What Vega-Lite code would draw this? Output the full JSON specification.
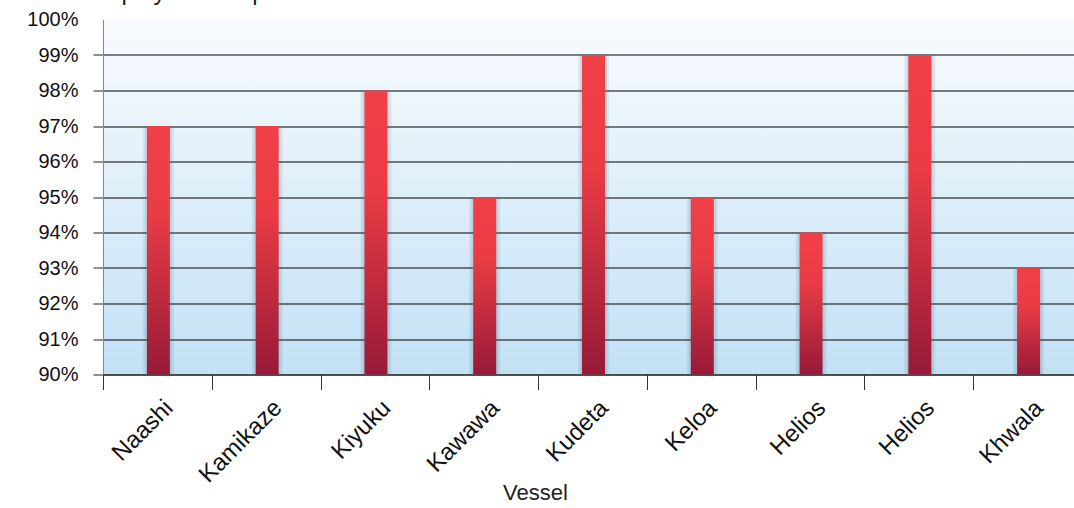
{
  "$schema": "https://vega.github.io/schema/vega-lite/v6.json",
  "autosize": "none",
  "width": 979,
  "height": 355,
  "padding": {"left": 103, "top": 19.5, "right": 0, "bottom": 134},
  "background": "white",
  "config": {
    "font": "Liberation Sans",
    "view": {
      "stroke": null,
      "fill": {
        "gradient": "linear",
        "x1": 0, "y1": 0, "x2": 0, "y2": 1,
        "stops": [
          {"offset": 0, "color": "#f8fbfe"},
          {"offset": 1, "color": "#c3e1f5"}
        ]
      }
    }
  },
  "data": {
    "values": [
      {"id": "Naashi|1", "protected": 97},
      {"id": "Kamikaze|2", "protected": 97},
      {"id": "Kiyuku|3", "protected": 98},
      {"id": "Kawawa|4", "protected": 95},
      {"id": "Kudeta|5", "protected": 99},
      {"id": "Keloa|6", "protected": 95},
      {"id": "Helios|7", "protected": 94},
      {"id": "Helios|8", "protected": 99},
      {"id": "Khwala|9", "protected": 93}
    ]
  },
  "encoding": {
    "x": {
      "field": "id",
      "type": "nominal",
      "sort": null,
      "scale": {"paddingInner": 0, "paddingOuter": 0},
      "axis": {
        "title": "Vessel",
        "titleFontSize": 22,
        "titleFontWeight": "normal",
        "titleColor": "#222222",
        "titleX": 432,
        "titleY": 125,
        "titleAlign": "center",
        "titleBaseline": "alphabetic",
        "labelExpr": "isValid(datum.value) ? split(datum.value, '|')[0] : ''",
        "labelAngle": -45,
        "labelFontSize": 24,
        "labelColor": "#111111",
        "labelPadding": 6,
        "labelOffset": 3,
        "tickBand": "extent",
        "tickSize": 15,
        "tickColor": "#333333",
        "domainColor": "#222222",
        "grid": false
      }
    },
    "y": {
      "field": "protected",
      "type": "quantitative",
      "scale": {"domain": [90, 100], "nice": false, "zero": false},
      "axis": {
        "title": "% of employees are protected",
        "titleAngle": 0,
        "titleAlign": "left",
        "titleBaseline": "alphabetic",
        "titleX": -70,
        "titleY": -20,
        "titleFontSize": 24,
        "titleFontWeight": "normal",
        "titleColor": "#222222",
        "values": [90, 91, 92, 93, 94, 95, 96, 97, 98, 99, 100],
        "labelExpr": "datum.value + '%'",
        "labelFontSize": 20,
        "labelColor": "#111111",
        "labelPadding": 15,
        "tickSize": 10,
        "tickColor": "#222222",
        "tickOpacity": {"condition": {"test": "datum.value == 100", "value": 0}, "value": 1},
        "grid": true,
        "gridColor": "#000000",
        "gridOpacity": {"condition": {"test": "datum.value == 100", "value": 0}, "value": 1},
        "domainColor": "#888888"
      }
    },
    "y2": {"datum": 90}
  },
  "layer": [
    {
      "mark": {"type": "bar", "width": 31, "xOffset": 1, "color": "#3d5f7a", "opacity": 0.1}
    },
    {
      "mark": {"type": "bar", "width": 27, "xOffset": 1, "color": "#3d5f7a", "opacity": 0.1}
    },
    {
      "mark": {
        "type": "bar",
        "width": 23,
        "xOffset": 1,
        "fill": {
          "gradient": "linear",
          "x1": 0, "y1": 0, "x2": 0, "y2": 1,
          "stops": [
            {"offset": 0, "color": "#f03f47"},
            {"offset": 0.35, "color": "#ea3c45"},
            {"offset": 1, "color": "#961a38"}
          ]
        }
      }
    }
  ]
}
